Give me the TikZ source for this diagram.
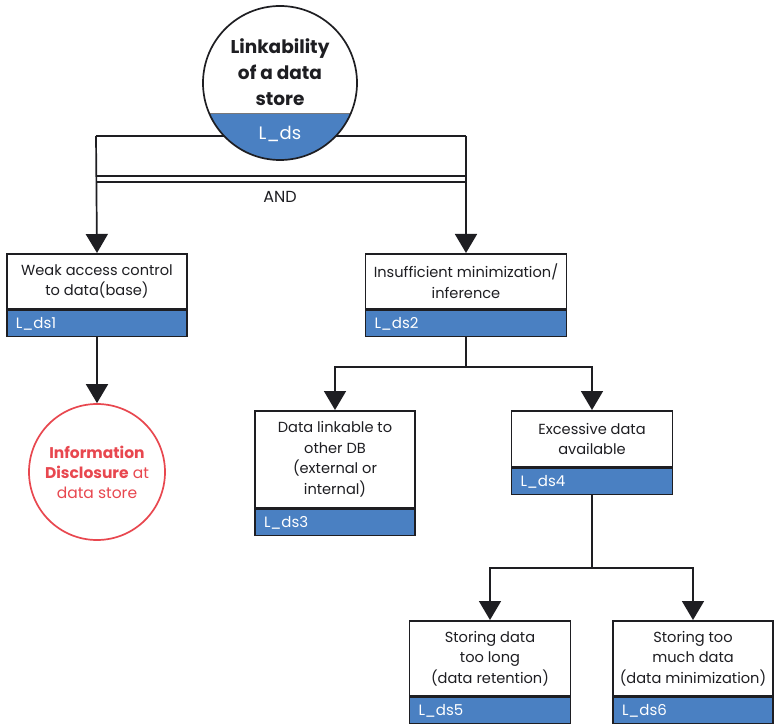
\documentclass[tikz,border=0pt]{standalone}
\usepackage{fontspec}
\setmainfont{Poppins}
\usetikzlibrary{arrows.meta}
\definecolor{barblue}{HTML}{4A80C2}
\definecolor{linec}{HTML}{1E1E22}
\definecolor{redc}{HTML}{E8474F}
\tikzset{
  lw/.style={line width=1.7pt},
  box/.style={draw=linec, lw, fill=white, align=center, inner sep=0pt, anchor=north,
    font=\fontsize{14.6}{20.5}\selectfont, text=linec},
  bar/.style={draw=linec, lw, fill=barblue, minimum height=26pt, anchor=north, text=white,
    align=left, inner sep=0pt, font=\fontsize{15}{16}\selectfont},
  arr/.style={draw=linec, lw, -{Triangle[width=22pt,length=19pt]}},
  conn/.style={draw=linec, lw},
}
\begin{document}
\begin{tikzpicture}[x=1pt,y=-1pt]
\useasboundingbox[fill=white] (0,0) rectangle (779,727);

% boxes
\node[box, minimum width=180pt, minimum height=55pt] (b1) at (97,253) {Weak access control\\to data(base)};
\node[bar, minimum width=180pt, text width=162pt] (b1l) at (b1.south) {L\_ds1};
\node[box, minimum width=201pt, minimum height=55pt] (b2) at (466,253) {Insufficient minimization/\\inference};
\node[bar, minimum width=201pt, text width=183pt] (b2l) at (b2.south) {L\_ds2};
\node[box, minimum width=160pt, minimum height=97pt] (b3) at (335,410) {Data linkable to\\other DB\\(external or\\internal)};
\node[bar, minimum width=160pt, text width=142pt] (b3l) at (b3.south) {L\_ds3};
\node[box, minimum width=161pt, minimum height=56pt] (b4) at (592,410) {Excessive data\\available};
\node[bar, minimum width=161pt, text width=143pt] (b4l) at (b4.south) {L\_ds4};
\node[box, minimum width=161pt, minimum height=75pt] (b5) at (490,620) {Storing data\\too long\\(data retention)};
\node[bar, minimum width=161pt, text width=143pt] (b5l) at (b5.south) {L\_ds5};
\node[box, minimum width=160pt, minimum height=75pt] (b6) at (693,620) {Storing too\\much data\\(data minimization)};
\node[bar, minimum width=160pt, text width=142pt] (b6l) at (b6.south) {L\_ds6};

% AND gate
\coordinate (aTL) at (96,136);
\coordinate (aTR) at (466,136);
\coordinate (aM1L) at (96,176);
\coordinate (aM1R) at (466,176);
\coordinate (aM2L) at (96,182);
\coordinate (aM2R) at (466,182);
\draw[conn] (aTL) -- (aTR);
\draw[conn] (aM1L) -- (aM1R);
\draw[conn] (aM2L) -- (aM2R);
\draw[arr] (aTL) -- (b1.north);
\draw[arr] (aTR) -- (b2.north);
\node[font=\fontsize{16}{18}\selectfont, text=linec] (andlbl) at (280,197) {AND};

% top circle
\node[circle, minimum size=154pt, inner sep=0pt, fill=white] (top) at (280,83) {};
\begin{scope}
  \clip (top.center) circle (77pt);
  \fill[barblue] (190,113) rectangle (370,170);
  \draw[linec!60, line width=0.8pt] (190,113) -- (370,113);
\end{scope}
\draw[linec, lw] (top.center) circle (77pt);
\node[font=\fontsize{18.5}{26}\selectfont\bfseries, text=linec, align=center] (toptxt) at (280,72) {Linkability\\of a data\\store};
\node[font=\fontsize{18}{20}\selectfont, text=white] (toplbl) at (280,134) {L\_ds};

% information disclosure
\node[circle, draw=redc, lw, minimum size=136pt, inner sep=0pt] (info) at (97,472) {};
\node[font=\fontsize{15.5}{20}\selectfont, text=redc, align=center] (infotxt) at (info.center) {\textbf{Information}\\\textbf{Disclosure} at\\data store};

% connectors
\draw[arr] (b1l.south) -- (info.north);
\coordinate (j2) at (466,367);
\draw[conn] (b2l.south) -- (j2);
\draw[arr] (j2) -| (b3.north);
\draw[arr] (j2) -| (b4.north);
\coordinate (j4) at (592,568);
\draw[conn] (b4l.south) -- (j4);
\draw[arr] (j4) -| (b5.north);
\draw[arr] (j4) -| (b6.north);
\end{tikzpicture}
\end{document}
